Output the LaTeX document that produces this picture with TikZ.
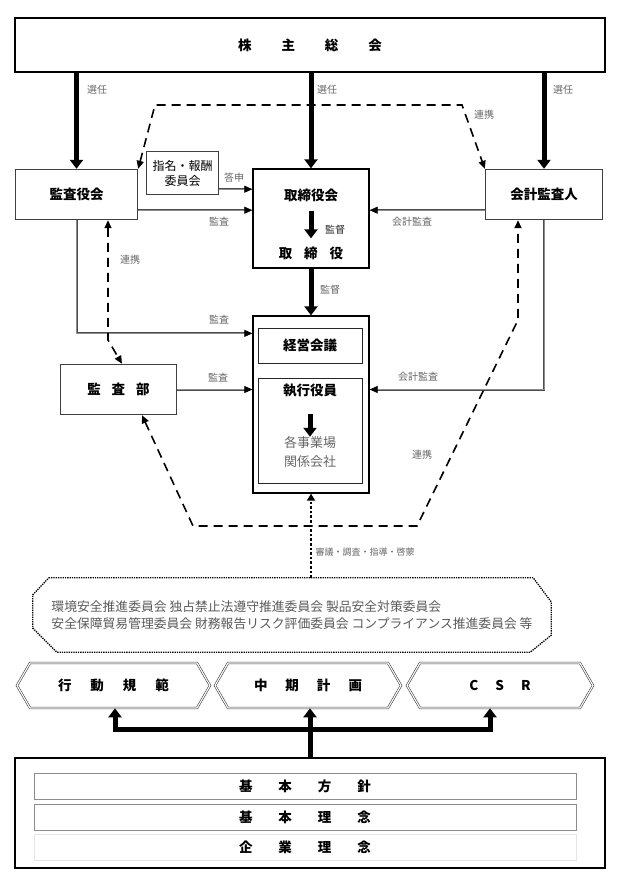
\documentclass[tikz,border=0pt]{standalone}
\usepackage{fontspec}
\setmainfont{Noto Sans CJK JP}
\usetikzlibrary{arrows.meta,shapes.symbols}

\begin{document}
\begin{tikzpicture}[x=1pt,y=1pt,yscale=-1,xscale=1,
	box/.style={draw, line width=1.3pt, inner sep=0pt, font=\fontsize{13.5}{16}\selectfont\bfseries},
	dbox/.style={inner sep=0pt, font=\fontsize{13.5}{16}\selectfont\bfseries},
	dline/.style={draw=black!75, double=white, double distance=1.1pt, line width=0.6pt},
	inbox/.style={draw=black!85, line width=0.9pt, inner sep=0pt, font=\fontsize{13.5}{16}\selectfont\bfseries},
	rowbox/.style={draw=black!45, line width=0.6pt, minimum width=542pt, minimum height=26pt, inner sep=0pt, font=\fontsize{13.5}{16}\selectfont\bfseries},
	hexbox/.style={dbox, dline, shape=signal, signal to=east and west, signal pointer angle=120, minimum height=45pt},
	title/.style={inner sep=3pt, font=\fontsize{13.5}{16}\selectfont\bfseries},
	bigarrow/.style={line width=5pt, -{Triangle[width=13pt,length=9pt]}},
	audit/.style={draw=black!70, double=black!45, double distance=0.7pt, line width=0.65pt, -{Triangle[width=7pt,length=8pt,color=black]}},
	link/.style={line width=1.6pt, dash pattern=on 9pt off 6pt, {Triangle[width=7pt,length=8pt]}-{Triangle[width=7pt,length=8pt]}},
	lbl/.style={text=black!60, font=\fontsize{10}{12}\selectfont, inner sep=1pt}]
\useasboundingbox (0,0) rectangle (630,880);

%Shape: Rectangle
\node[box, minimum width=590pt, minimum height=54pt] (soukai) at (310,45) {株\hspace{30pt}主\hspace{30pt}総\hspace{30pt}会};
\node[dbox, minimum width=123pt, minimum height=51pt] (kansayakukai) at (76.5,194.5) {監査役会};
\node[dbox, minimum width=73pt, minimum height=44pt, align=center, font=\fontsize{12}{15}\selectfont] (shimei) at (182.5,173) {指名・報酬\\委員会};
\node[box, minimum width=116pt, minimum height=99pt] (torishimari) at (311,218.5) {};
\node[dbox, minimum width=118pt, minimum height=51pt] (kaikei) at (544,194.5) {会計監査人};
\node[box, minimum width=116pt, minimum height=177pt] (chuo) at (311,404.5) {};
\node[inbox, minimum width=104pt, minimum height=35pt] (keiei) at (310,345.5) {経営会議};
\node[inbox, minimum width=104pt, minimum height=105pt] (shikko) at (310,430.5) {};
\node[dbox, minimum width=117pt, minimum height=51pt] (kansabu) at (118.5,389.5) {監\hspace{11pt}査\hspace{11pt}部};
\foreach \n in {kansayakukai,shimei,kaikei,kansabu}
	\draw[dline] (\n.north west) -- (\n.north east) -- (\n.south east) -- (\n.south west) -- cycle;

% Text Node
\node[title] (torikai) at (311,195) {取締役会};
\node[title] (torishimariyaku) at (311,253) {取\hspace{12pt}締\hspace{12pt}役};
\node[title] (shikkoyakuin) at (310,391) {執行役員};
\node[align=center, text=black!60, inner sep=0pt, font=\fontsize{13}{19}\selectfont] (jigyo) at (310,452.5) {各事業場\\関係会社};

%Straight Lines
\draw[bigarrow] (soukai.south -| kansayakukai.north) -- (kansayakukai.north);
\draw[bigarrow] (soukai.south -| torishimari.north) -- (torishimari.north);
\draw[bigarrow] (soukai.south -| kaikei.north) -- (kaikei.north);
\draw[bigarrow] (torishimari.south) -- (chuo.north);
\draw[bigarrow, shorten <=6pt, shorten >=5pt] (torikai) -- (torishimariyaku);
\draw[bigarrow, shorten <=13pt, shorten >=0pt] (shikkoyakuin) -- (jigyo);

%Straight Lines
\coordinate (a1) at ([yshift=-6pt]shimei.south east);
\coordinate (a2) at ([yshift=-10pt]kansayakukai.south east);
\coordinate (a3) at ([yshift=-10pt]kaikei.south west);
\draw[audit] (a1) -- (a1 -| torishimari.west);
\draw[audit] (a2) -- (a2 -| torishimari.west);
\draw[audit] (a3) -- (a3 -| torishimari.east);
\draw[audit] (kansayakukai.south) |- ([yshift=18pt]chuo.north west);
\draw[audit] (kansabu.east) -- (kansabu.east -| chuo.west);
\draw[audit] (kaikei.south) |- (kansabu.east -| chuo.east);

%Dashed Lines
\coordinate (t1) at (155,105);
\coordinate (t2) at (462,105);
\coordinate (l1) at (108,340);
\coordinate (r1) at (193,526);
\coordinate (r2) at (417,526);
\coordinate (r3) at (518,320);
\draw[link] (kansayakukai.north east) -- (t1) -- (t2) -- (kaikei.north west);
\draw[link] ([xshift=31.5pt]kansayakukai.south) -- (l1) -- ([xshift=3.5pt]kansabu.north);
\draw[link] ([xshift=23.5pt]kansabu.south) -- (r1) -- (r2) -- (r3) -- ([xshift=-26pt]kaikei.south);

%Shape: Octagon
\node[align=left, minimum width=518pt, minimum height=74pt, inner sep=0pt, text=black!65, font=\fontsize{12.8}{17}\selectfont] (iinkai) at (292,615) {環境安全推進委員会 独占禁止法遵守推進委員会 製品安全対策委員会\\安全保障貿易管理委員会 財務報告リスク評価委員会 コンプライアンス推進委員会 等};
\draw[line width=1.3pt, dash pattern=on 1.3pt off 1pt] ([xshift=16pt]iinkai.north west) -- ([xshift=-18pt]iinkai.north east) -- ([yshift=24pt]iinkai.north east) -- ([yshift=-17pt]iinkai.south east) -- ([xshift=-21pt]iinkai.south east) -- ([xshift=24pt]iinkai.south west) -- ([yshift=-24pt]iinkai.south west) -- ([yshift=17pt]iinkai.north west) -- cycle;
\draw[line width=2.6pt, dash pattern=on 2.6pt off 2pt, -{Triangle[width=8pt,length=7pt]}] (iinkai.north -| chuo.south) -- (chuo.south);

%Shape: Hexagon
\node[hexbox, minimum width=193pt] (koudou) at (113.5,685.5) {行\hspace{19pt}動\hspace{19pt}規\hspace{19pt}範};
\node[hexbox, minimum width=186pt] (chuuki) at (308,685.5) {中\hspace{18pt}期\hspace{18pt}計\hspace{18pt}画};
\node[hexbox, minimum width=186pt] (csr) at (500,685.5) {C\hspace{17pt}S\hspace{17pt}R};

%Shape: Rectangle
\node[draw, line width=1.8pt, minimum width=590pt, minimum height=110pt] (kihon) at (310,813) {};
\node[rowbox] (houshin) at (305,786) {基\hspace{26pt}本\hspace{26pt}方\hspace{26pt}針};
\node[rowbox] (rinen) at (305,817) {基\hspace{26pt}本\hspace{26pt}理\hspace{26pt}念};
\node[rowbox, draw=black!10] (kigyou) at (305,847) {企\hspace{26pt}業\hspace{26pt}理\hspace{26pt}念};

%Straight Lines
\coordinate (bj) at (310,729);
\draw[bigarrow] (kihon.north) -- (kihon.north |- chuuki.south);
\draw[line width=5pt, {Triangle[width=13pt,length=9pt]}-{Triangle[width=13pt,length=9pt]}] ([xshift=1.5pt]koudou.south) -- ([xshift=1.5pt]koudou.south |- bj) -- ([xshift=-10pt]csr.south |- bj) -- ([xshift=-10pt]csr.south);

% Text Node
\node[lbl] at (97,90) {選任};
\node[lbl] at (327,90) {選任};
\node[lbl] at (563,90) {選任};
\node[lbl] at (484,115) {連携};
\node[lbl] at (234,178) {答申};
\node[lbl] at (219,222) {監査};
\node[lbl] at (412,222) {会計監査};
\node[lbl, text=black!85] at (335,230) {監督};
\node[lbl] at (130,260) {連携};
\node[lbl] at (330,290) {監督};
\node[lbl] at (219,320) {監査};
\node[lbl] at (218,378) {監査};
\node[lbl] at (418,377) {会計監査};
\node[lbl] at (422,455) {連携};
\node[lbl, font=\fontsize{9}{11}\selectfont] at (365,552) {審議・調査・指導・啓蒙};

\end{tikzpicture}
\end{document}
